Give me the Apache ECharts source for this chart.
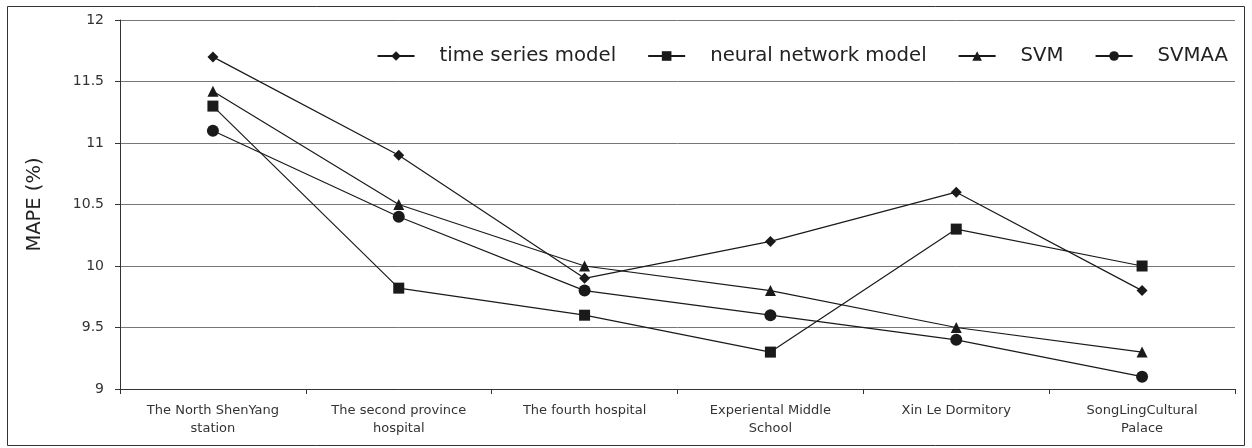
<!DOCTYPE html>
<html>
<head>
<meta charset="utf-8">
<script src="https://cdn.jsdelivr.net/npm/echarts@6/dist/echarts.min.js"></script>
<style>html,body{margin:0;padding:0;background:#fff}#c{width:1252px;height:448px}</style>
</head>
<body>
<div id="c"></div>
<script>
const categories = ['The North ShenYang\nstation', 'The second province\nhospital', 'The fourth hospital', 'Experiental Middle\nSchool', 'Xin Le Dormitory', 'SongLingCultural\nPalace'];
const timeSeries = [11.7, 10.9, 9.9, 10.2, 10.6, 9.8];
const neuralNet = [11.3, 9.82, 9.6, 9.3, 10.3, 10.0];
const svm = [11.42, 10.5, 10.0, 9.8, 9.5, 9.3];
const svmaa = [11.1, 10.4, 9.8, 9.6, 9.4, 9.1];
const seriesNames = ['time series model', 'neural network model', 'SVM', 'SVMAA'];
const symbols = ['diamond', 'rect', 'triangle', 'circle'];
const sizes = [11, 11, 11, 12];
const values = [timeSeries, neuralNet, svm, svmaa];

const chart = echarts.init(document.getElementById('c'));
const font = '"DejaVu Sans", Verdana, sans-serif';
chart.setOption({
  animation: false,
  textStyle: { fontFamily: font },
  graphic: [{
    type: 'rect', shape: { x: 7.5, y: 6.5, width: 1237, height: 439 },
    style: { fill: 'none', stroke: '#333', lineWidth: 1 }, silent: true
  }],
  legend: {
    top: 41, right: 19, itemWidth: 37, itemHeight: 12, itemGap: 31,
    textStyle: { fontSize: 19.7, color: '#222', fontFamily: font, padding: [0, 0, 0, 20] },
    data: seriesNames
  },
  grid: { left: 120, right: 17, top: 20, bottom: 59, containLabel: false },
  xAxis: {
    type: 'category', data: categories, boundaryGap: true,
    axisLine: { lineStyle: { color: '#333', width: 1 } },
    axisTick: { show: true, length: 5, lineStyle: { color: '#333' } },
    axisLabel: { fontSize: 13, color: '#333', margin: 13, lineHeight: 18, interval: 0 }
  },
  yAxis: {
    type: 'value', min: 9, max: 12, interval: 0.5,
    name: 'MAPE (%)', nameLocation: 'middle', nameGap: 75, nameRotate: 90,
    nameTextStyle: { fontSize: 19.5, color: '#222' },
    axisLine: { show: true, lineStyle: { color: '#333', width: 1 } },
    axisTick: { show: true, length: 5, lineStyle: { color: '#333' } },
    axisLabel: { fontSize: 14, color: '#333', margin: 16 },
    splitLine: { show: true, lineStyle: { color: '#777', width: 1 } }
  },
  series: seriesNames.map((n, i) => ({
    name: n, type: 'line', data: values[i],
    symbol: symbols[i], symbolSize: sizes[i],
    itemStyle: { color: '#1a1a1a' },
    lineStyle: { color: '#1a1a1a', width: 1.2 }
  }))
});
</script>
</body>
</html>
